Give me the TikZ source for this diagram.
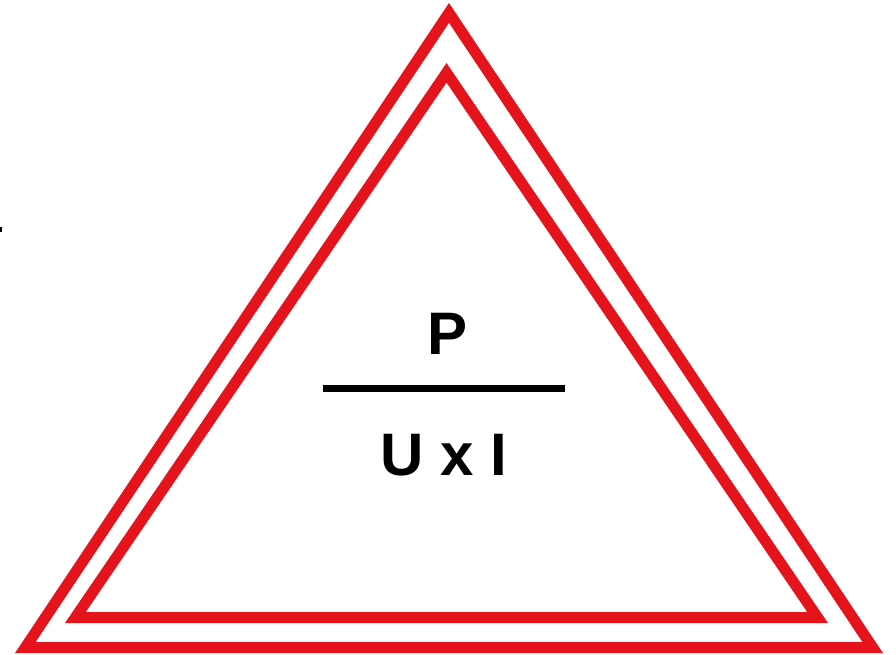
\documentclass[tikz,border=0pt]{standalone}
\usepackage{fontspec}
\setmainfont{Liberation Sans}
\definecolor{tri}{RGB}{228,19,28}
\begin{document}
\begin{tikzpicture}[x=0.75pt,y=-0.75pt,
  tribox/.style={draw=tri,line width=8.25pt,line join=miter,miter limit=10},
  label/.style={inner sep=0pt,font=\fontsize{45}{50}\selectfont\bfseries,text=black}]
\useasboundingbox (0,0) rectangle (896,655);
% outer triangle
\draw[tribox] (449,12.9) -- (872.7,647.5) -- (25.3,647.5) -- cycle;
% inner triangle
\draw[tribox] (446.5,72.8) -- (817.6,617.5) -- (75.4,617.5) -- cycle;
% tiny mark at left edge
\fill[black] (0,227) rectangle (2,232);
% formula
\node[label] (p) at (447.5,334) {P};
\node[label] (uxi) at (443.5,455) {U x I};
\coordinate (l1) at (323,388.5);
\coordinate (l2) at (565,388.5);
\draw[line width=5.25pt] (l1) -- (l2);
\end{tikzpicture}
\end{document}
